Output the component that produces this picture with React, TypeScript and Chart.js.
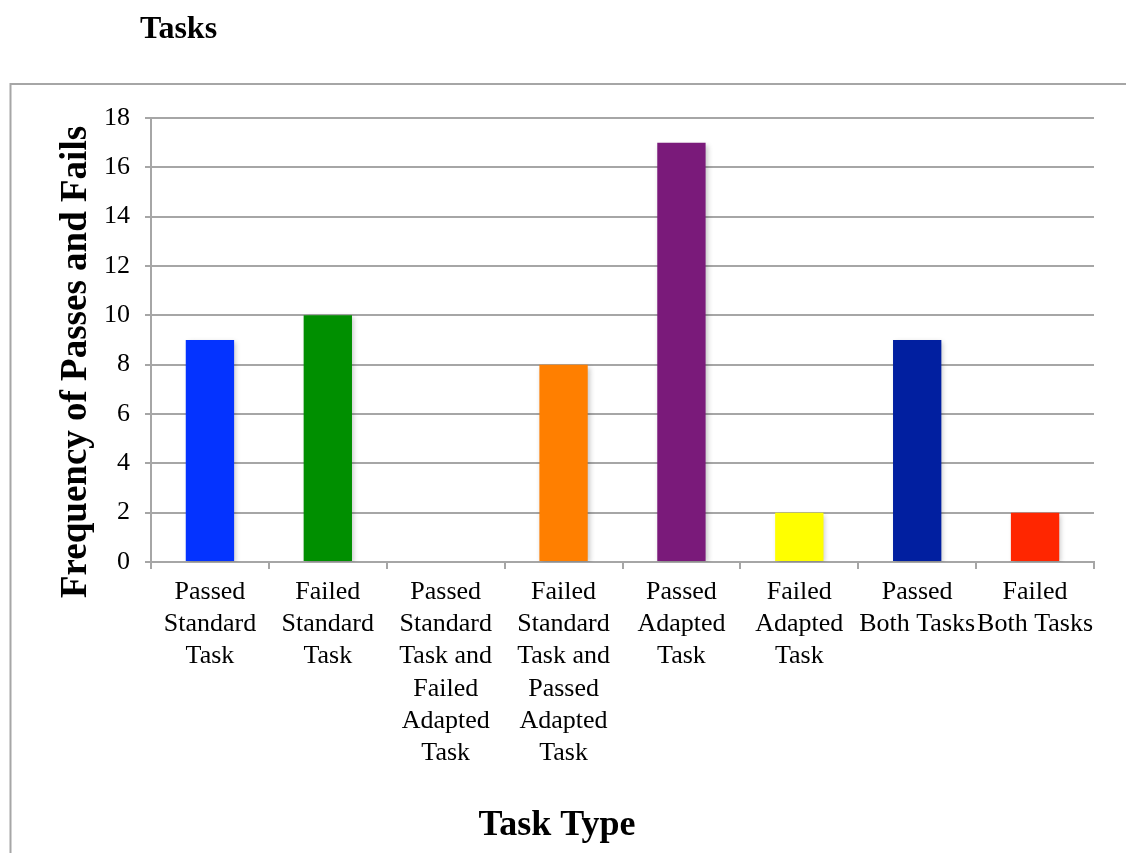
import React, { useEffect, useRef } from "react";
import { Chart, registerables } from "chart.js";

Chart.register(...registerables);

const chartTitle = "Tasks";
const yAxisTitle = "Frequency of Passes and Fails";
const xAxisTitle = "Task Type";

const categories: string[][] = [
  ["Passed", "Standard", "Task"],
  ["Failed", "Standard", "Task"],
  ["Passed", "Standard", "Task and", "Failed", "Adapted", "Task"],
  ["Failed", "Standard", "Task and", "Passed", "Adapted", "Task"],
  ["Passed", "Adapted", "Task"],
  ["Failed", "Adapted", "Task"],
  ["Passed", "Both Tasks"],
  ["Failed", "Both Tasks"],
];

const frequencies: number[] = [9, 10, 0, 8, 17, 2, 9, 2];

const barColors: string[] = [
  "#0433FF",
  "#008F00",
  "#9437FF",
  "#FF7F00",
  "#7A1A7A",
  "#FFFF00",
  "#011FA0",
  "#FF2600",
];

const yTicks = { min: 0, max: 18, step: 2 };

const SERIF = "'Liberation Serif', 'Times New Roman', serif";
const GRID = "#a6a6a6";

const W = 1126;
const H = 853;

const decorPlugin = {
  id: "decor",
  beforeDraw(chart: any) {
    const ctx = chart.ctx;
    ctx.save();
    ctx.fillStyle = "#ffffff";
    ctx.fillRect(0, 0, W, H);
    // outer box (extends past right and bottom edges)
    ctx.strokeStyle = GRID;
    ctx.lineWidth = 2;
    ctx.beginPath();
    ctx.moveTo(W + 5, 84);
    ctx.lineTo(10.5, 84);
    ctx.lineTo(10.5, H + 5);
    ctx.stroke();
    // title
    ctx.fillStyle = "#000";
    ctx.font = `bold 32px ${SERIF}`;
    ctx.textAlign = "left";
    ctx.textBaseline = "alphabetic";
    ctx.fillText(chartTitle, 140, 38);
    ctx.restore();
  },
  afterDraw(chart: any) {
    const ctx = chart.ctx;
    ctx.save();
    ctx.fillStyle = "#000";
    ctx.textAlign = "center";
    ctx.textBaseline = "alphabetic";
    ctx.font = `bold 36px ${SERIF}`;
    ctx.fillText(xAxisTitle, 557, 835);
    ctx.font = `bold 37px ${SERIF}`;
    ctx.textBaseline = "middle";
    ctx.translate(76, 362);
    ctx.rotate(-Math.PI / 2);
    ctx.fillText(yAxisTitle, 0, 0);
    ctx.restore();
  },
  beforeDatasetsDraw(chart: any) {
    const ctx = chart.ctx;
    ctx.save();
    ctx.shadowColor = "rgba(0,0,0,0.22)";
    ctx.shadowBlur = 5;
    ctx.shadowOffsetX = 2;
    ctx.shadowOffsetY = 2;
  },
  afterDatasetsDraw(chart: any) {
    chart.ctx.restore();
  },
};

export default function App() {
  const ref = useRef<HTMLCanvasElement | null>(null);

  useEffect(() => {
    if (!ref.current) return;
    const chart = new Chart(ref.current, {
      type: "bar",
      data: {
        labels: categories,
        datasets: [
          {
            data: frequencies,
            backgroundColor: barColors,
            borderWidth: 0,
            barPercentage: 0.41,
            categoryPercentage: 1,
          },
        ],
      },
      options: {
        animation: false,
        responsive: false,
        devicePixelRatio: 1,
        layout: { padding: { top: 118, right: 32, left: 0, bottom: 0 } },
        plugins: {
          legend: { display: false },
          title: { display: false },
          tooltip: { enabled: false },
        },
        scales: {
          x: {
            afterFit: (scale: any) => {
              scale.height = H - 562;
            },
            grid: {
              display: true,
              drawOnChartArea: false,
              drawTicks: true,
              tickLength: 7,
              color: GRID,
              lineWidth: 2,
              offset: true,
            },
            border: { display: true, color: GRID, width: 2 },
            ticks: {
              autoSkip: false,
              maxRotation: 0,
              minRotation: 0,
              color: "#000",
              padding: 7,
              font: { family: SERIF, size: 26, lineHeight: 1.24 },
            },
            title: { display: false },
          },
          y: {
            min: yTicks.min,
            max: yTicks.max,
            afterFit: (scale: any) => {
              scale.width = 151;
            },
            grid: {
              color: GRID,
              lineWidth: 2,
              tickLength: 6,
              drawTicks: true,
            },
            border: { display: true, color: GRID, width: 2 },
            ticks: {
              stepSize: yTicks.step,
              color: "#000",
              padding: 15,
              font: { family: SERIF, size: 26 },
            },
            title: { display: false },
          },
        },
      },
      plugins: [decorPlugin],
    });
    return () => chart.destroy();
  }, []);

  return (
    <div style={{ position: "absolute", left: 0, top: 0, width: W, height: H, background: "#fff" }}>
      <canvas ref={ref} width={W} height={H} style={{ width: W, height: H, display: "block" }} />
    </div>
  );
}
